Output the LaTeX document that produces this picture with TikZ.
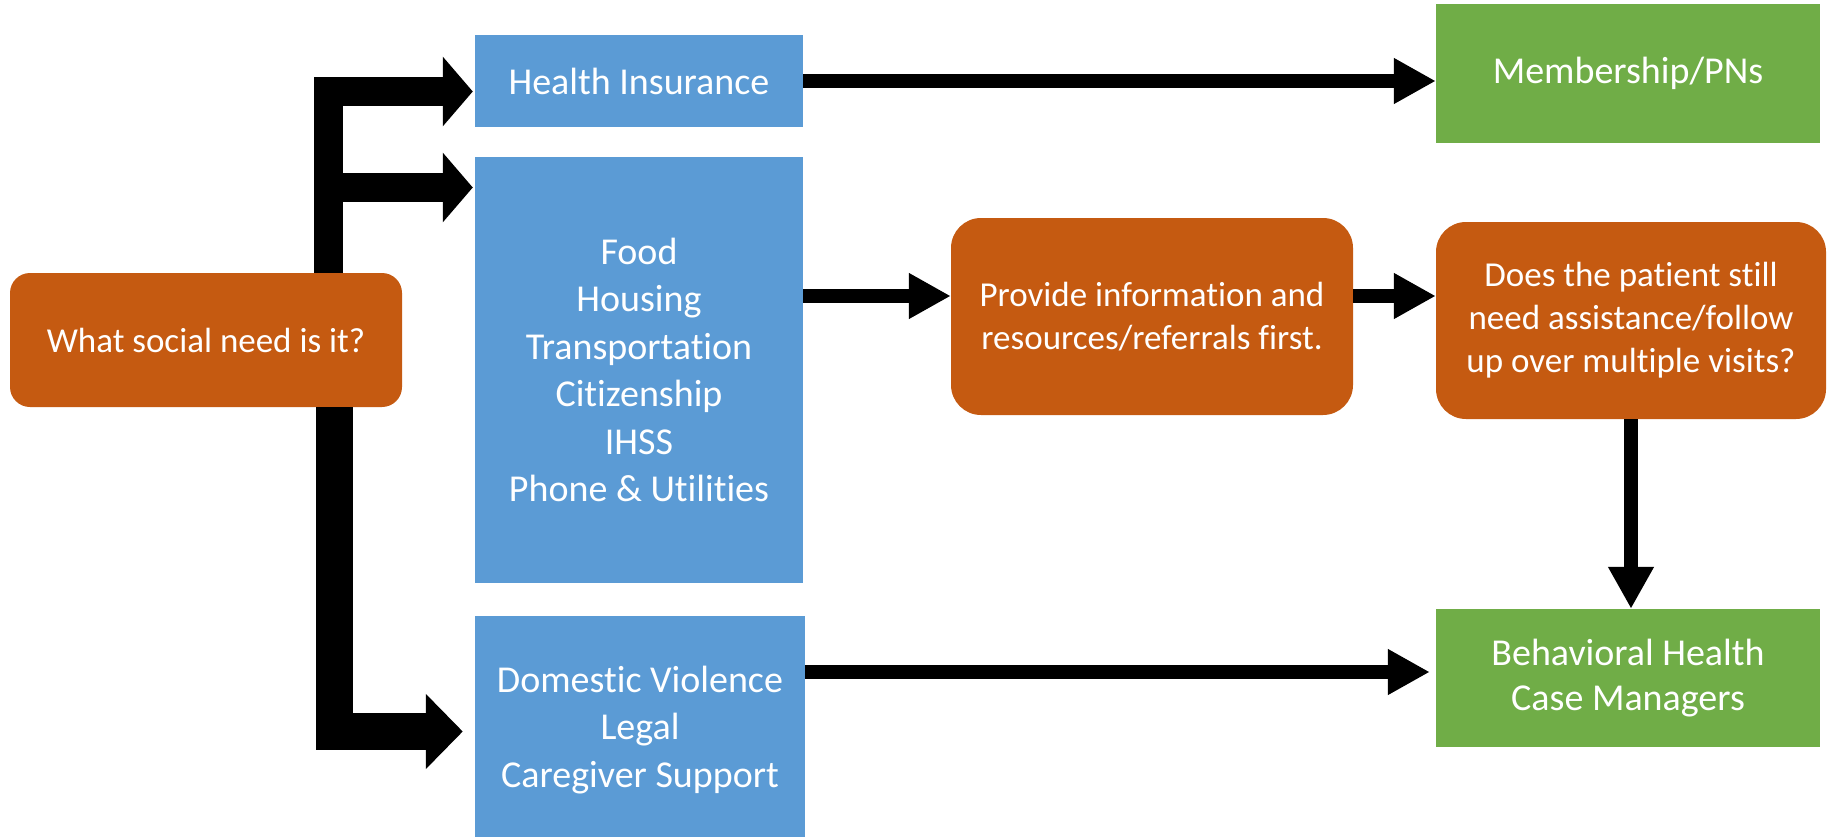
\documentclass[tikz,border=0pt]{standalone}
\usepackage{fontspec}
\setmainfont{Carlito}[Ligatures = NoCommon]
\usetikzlibrary{arrows.meta}
\definecolor{needorange}{HTML}{C55A11}
\definecolor{needblue}{HTML}{5B9BD5}
\definecolor{needgreen}{HTML}{70AD47}

\begin{document}
\begin{tikzpicture}[x = 1pt, y = -1pt,
  box/.style = {rectangle, inner sep = 0pt, text = white, align = center,
    font = \fontsize{38}{47.5}\selectfont},
  bluebox/.style = {box, fill = needblue},
  greenbox/.style = {box, fill = needgreen, font = \fontsize{38}{45}\selectfont},
  askbox/.style = {box, fill = needorange, rounded corners = 30pt,
    font = \fontsize{35}{43}\selectfont},
  link/.style = {line width = 14pt, -{Triangle[length = 42pt, width = 43pt]}},
  fork/.style = {line width = 29pt, -{Triangle[length = 30pt, width = 68pt]}}
]
\useasboundingbox (0, 0) rectangle (1833, 837);

% boxes
\node[askbox, rounded corners = 20pt, minimum width = 392pt, minimum height = 134pt] (need) at (206, 340) {What social need is it?};
\node[bluebox, minimum width = 328pt, minimum height = 92pt] (insurance) at (639, 81) {Health Insurance};
\node[bluebox, minimum width = 328pt, minimum height = 426pt] (basic) at (639, 370) {Food\\Housing\\Transportation\\Citizenship\\IHSS\\Phone \& Utilities};
\node[bluebox, minimum width = 330pt, minimum height = 228pt] (safety) at (640, 730) {Domestic Violence\\Legal\\Caregiver Support};
\node[greenbox, minimum width = 384pt, minimum height = 139pt] (member) at (1628, 73.5) {Membership/PNs};
\node[askbox, minimum width = 402pt, minimum height = 197pt] (inform) at (1152, 316.5) {Provide information and\\resources/referrals first.};
\node[askbox, minimum width = 390pt, minimum height = 197pt] (followup) at (1631, 320.5) {Does the patient still\\need assistance/follow\\up over multiple visits?};
\node[greenbox, minimum width = 384pt, minimum height = 138pt] (manager) at (1628, 678) {Behavioral Health\\Case Managers};

% branches out of the question
\draw[fork, shorten > = 2pt] ([xshift = 122.5pt]need.north) |- ([yshift = -10.5pt]insurance.west);
\draw[fork, shorten > = 2pt] ([xshift = 122.5pt]need.north) |- ([yshift = 182.5pt]basic.west);
\draw[fork, line width = 37pt, -{Triangle[length = 37pt, width = 73pt]}, shorten > = 12pt] %
  ([xshift = 128.5pt]need.south) |- ([yshift = -1.5pt]safety.west);

% connectors
\coordinate (relay) at ([yshift = 20.5pt]inform.west);
\coordinate (handover) at ([yshift = 6pt]manager.west);
\draw[link] (insurance.east) -- (insurance.east -| member.west);
\draw[link] (basic.east |- relay) -- (relay);
\draw[link] (relay -| inform.east) -- (relay -| followup.west);
\draw[link] (followup.south) -- (followup.south |- manager.north);
\draw[link, shorten > = 6pt] (safety.east |- handover) -- (handover);
\end{tikzpicture}
\end{document}
